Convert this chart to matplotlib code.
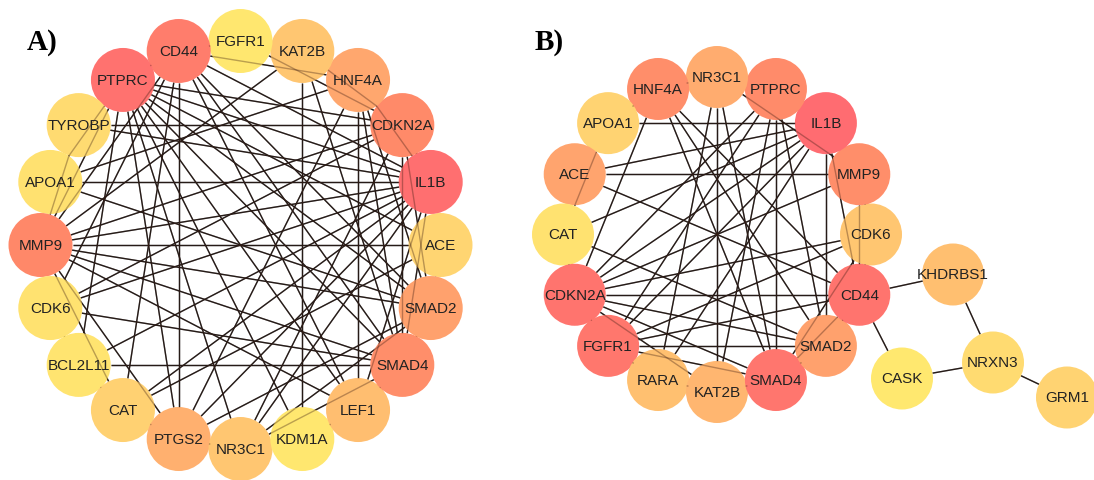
import numpy as np
import matplotlib
matplotlib.use("Agg")
import matplotlib.pyplot as plt
from matplotlib.patches import Circle
from matplotlib.colors import LinearSegmentedColormap

# ---------------- data ----------------
# Panel A: nodes in circular order (counter-clockwise, starting at 3 o'clock)
a_nodes = ["ACE", "IL1B", "CDKN2A", "HNF4A", "KAT2B", "FGFR1", "CD44", "PTPRC",
           "TYROBP", "APOA1", "MMP9", "CDK6", "BCL2L11", "CAT", "PTGS2", "NR3C1",
           "KDM1A", "LEF1", "SMAD4", "SMAD2"]
a_scores = [0.27, 0.98, 0.83, 0.63, 0.40, 0.04, 0.90, 0.96,
            0.20, 0.12, 0.84, 0.10, 0.08, 0.32, 0.57, 0.40,
            0.04, 0.47, 0.80, 0.67]
a_edges = [
    ("APOA1", "IL1B"), ("MMP9", "ACE"), ("BCL2L11", "SMAD4"), ("CD44", "PTGS2"),
    ("KAT2B", "KDM1A"), ("HNF4A", "LEF1"), ("CDKN2A", "SMAD4"), ("PTPRC", "BCL2L11"),
    ("PTPRC", "PTGS2"), ("CD44", "PTPRC"), ("MMP9", "PTPRC"), ("TYROBP", "MMP9"),
    ("MMP9", "CAT"), ("MMP9", "PTGS2"), ("CDK6", "BCL2L11"), ("BCL2L11", "CAT"),
    ("CAT", "PTGS2"), ("PTGS2", "NR3C1"), ("LEF1", "KDM1A"), ("NR3C1", "SMAD4"),
    ("SMAD4", "SMAD2"), ("SMAD2", "ACE"), ("KAT2B", "CDKN2A"), ("IL1B", "CDKN2A"),
    ("CD44", "HNF4A"), ("FGFR1", "CDKN2A"), ("CD44", "FGFR1"),
    ("MMP9", "IL1B"), ("MMP9", "CDKN2A"), ("MMP9", "SMAD2"), ("MMP9", "SMAD4"),
    ("MMP9", "LEF1"), ("MMP9", "CD44"), ("MMP9", "KAT2B"),
    ("IL1B", "PTPRC"), ("IL1B", "CD44"), ("IL1B", "TYROBP"), ("IL1B", "CDK6"),
    ("IL1B", "BCL2L11"), ("IL1B", "CAT"), ("IL1B", "PTGS2"), ("IL1B", "NR3C1"),
    ("IL1B", "SMAD4"), ("IL1B", "HNF4A"), ("IL1B", "LEF1"),
    ("PTPRC", "ACE"), ("PTPRC", "SMAD2"), ("PTPRC", "SMAD4"), ("PTPRC", "LEF1"),
    ("PTPRC", "KDM1A"), ("PTPRC", "CDKN2A"), ("PTPRC", "APOA1"),
    ("CD44", "SMAD2"), ("CD44", "SMAD4"), ("CD44", "LEF1"), ("CD44", "CDK6"),
    ("CD44", "CAT"),
    ("CDKN2A", "SMAD2"), ("CDKN2A", "NR3C1"), ("CDKN2A", "CDK6"), ("CDKN2A", "TYROBP"),
    ("SMAD4", "HNF4A"), ("SMAD4", "KAT2B"), ("SMAD2", "HNF4A"), ("SMAD2", "NR3C1"),
    ("SMAD2", "APOA1"), ("HNF4A", "APOA1"), ("HNF4A", "PTGS2"), ("PTGS2", "SMAD2"),
    ("CAT", "ACE"), ("NR3C1", "PTPRC"), ("CDK6", "SMAD4"), ("LEF1", "SMAD4"),
]

# Panel B: ring nodes (counter-clockwise from 3 o'clock) plus a small side chain
b_ring = ["CDK6", "MMP9", "IL1B", "PTPRC", "NR3C1", "HNF4A", "APOA1", "ACE",
          "CAT", "CDKN2A", "FGFR1", "RARA", "KAT2B", "SMAD4", "SMAD2", "CD44"]
b_ring_scores = [0.40, 0.80, 0.99, 0.82, 0.60, 0.80, 0.30, 0.65,
                 0.10, 0.95, 0.93, 0.45, 0.53, 0.94, 0.67, 0.95]
b_side = ["KHDRBS1", "NRXN3", "CASK", "GRM1"]
b_side_scores = [0.46, 0.20, 0.03, 0.30]
b_edges = [
    ("APOA1", "IL1B"), ("ACE", "MMP9"), ("CDKN2A", "CD44"), ("FGFR1", "SMAD2"),
    ("NR3C1", "KAT2B"), ("IL1B", "SMAD2"), ("MMP9", "CD44"), ("NR3C1", "MMP9"),
    ("CDKN2A", "MMP9"), ("CDKN2A", "CDK6"), ("CDKN2A", "SMAD2"), ("CDKN2A", "SMAD4"),
    ("CDKN2A", "KAT2B"), ("CDKN2A", "HNF4A"), ("CDKN2A", "IL1B"), ("CDKN2A", "PTPRC"),
    ("CAT", "CDKN2A"), ("CDKN2A", "FGFR1"),
    ("FGFR1", "CD44"), ("FGFR1", "CDK6"), ("FGFR1", "SMAD4"), ("FGFR1", "RARA"),
    ("FGFR1", "IL1B"), ("FGFR1", "PTPRC"),
    ("RARA", "NR3C1"), ("RARA", "KAT2B"), ("RARA", "IL1B"),
    ("KAT2B", "SMAD4"), ("SMAD4", "SMAD2"), ("SMAD4", "CD44"), ("SMAD2", "CD44"),
    ("SMAD4", "CDK6"), ("SMAD4", "PTPRC"), ("SMAD4", "HNF4A"), ("SMAD4", "NR3C1"),
    ("HNF4A", "SMAD2"), ("HNF4A", "NR3C1"), ("HNF4A", "APOA1"), ("HNF4A", "CD44"),
    ("APOA1", "CAT"), ("ACE", "IL1B"), ("ACE", "CD44"), ("CAT", "SMAD2"),
    ("CAT", "IL1B"), ("MMP9", "CDK6"), ("CDK6", "CD44"), ("PTPRC", "SMAD2"),
    ("PTPRC", "KAT2B"), ("CD44", "IL1B"),
    ("CD44", "KHDRBS1"), ("CD44", "CASK"), ("KHDRBS1", "NRXN3"),
    ("CASK", "NRXN3"), ("NRXN3", "GRM1"),
]

# ---------------- layout (figure pixel units, y downward) ----------------
W, H = 1094, 481
A_CENTER, A_RADII, A_NODE_R = (240.5, 246.0), (200.0, 204.0), 32.0
B_CENTER, B_RADII, B_NODE_R = (717.0, 235.5), (154.0, 157.5), 31.0
# side chain of panel B, placed relative to the ring centre
b_side_layout = {"KHDRBS1": (236, 40), "NRXN3": (276, 128),
                 "CASK": (185, 144), "GRM1": (350, 163)}


def ring_layout(names, center, radii):
    cx, cy = center
    rx, ry = radii
    angles = np.deg2rad(np.arange(len(names)) * 360.0 / len(names))
    return {n: (cx + rx * np.cos(t), cy - ry * np.sin(t)) for n, t in zip(names, angles)}


pos_a = ring_layout(a_nodes, A_CENTER, A_RADII)
pos_b = ring_layout(b_ring, B_CENTER, B_RADII)
for n, (dx, dy) in b_side_layout.items():
    pos_b[n] = (B_CENTER[0] + dx, B_CENTER[1] + dy)

cmap = LinearSegmentedColormap.from_list(
    "score", [(0.0, "#ffea6f"), (0.3, "#ffd372"), (0.5, "#ffba70"),
              (0.7, "#ff9d6d"), (0.85, "#ff8769"), (1.0, "#ff6b71")])

fig = plt.figure(figsize=(W / 100, H / 100), dpi=100)
ax = fig.add_axes([0, 0, 1, 1])
ax.set_xlim(0, W)
ax.set_ylim(H, 0)
ax.set_aspect("equal")
ax.axis("off")

LABEL_FONT = ["Liberation Sans", "DejaVu Sans"]


def draw_network(pos, scores, edges, node_r):
    segs = []
    for u, v in edges:
        p, q = np.array(pos[u]), np.array(pos[v])
        d = q - p
        L = np.hypot(*d)
        e = d / L
        segs.append((p + e * node_r, q - e * node_r))
    for p, q in segs:
        ax.plot([p[0], q[0]], [p[1], q[1]], color="#1c1c1c", lw=1.0,
                solid_capstyle="butt", zorder=1)
    for n, s in scores.items():
        x, y = pos[n]
        ax.add_patch(Circle((x, y), node_r, facecolor=cmap(s), edgecolor="none",
                            zorder=2))
        ax.text(x, y, n, ha="center", va="center", fontsize=11,
                family=LABEL_FONT, color="#222222", zorder=4)
    # edges crossing other nodes show faintly through them
    for p, q in segs:
        ax.plot([p[0], q[0]], [p[1], q[1]], color="#3a1a10", lw=1.0, alpha=0.35,
                solid_capstyle="butt", zorder=3)


draw_network(pos_a, dict(zip(a_nodes, a_scores)), a_edges, A_NODE_R)
draw_network(pos_b, dict(zip(b_ring + b_side, b_ring_scores + b_side_scores)),
             b_edges, B_NODE_R)

PANEL_FONT = ["Liberation Serif", "DejaVu Serif"]
ax.text(27, 50, "A)", fontsize=21, fontweight="bold", family=PANEL_FONT,
        ha="left", va="baseline", color="black")
ax.text(535, 50, "B)", fontsize=21, fontweight="bold", family=PANEL_FONT,
        ha="left", va="baseline", color="black")

fig.savefig("out.png", dpi=100, facecolor="white")
